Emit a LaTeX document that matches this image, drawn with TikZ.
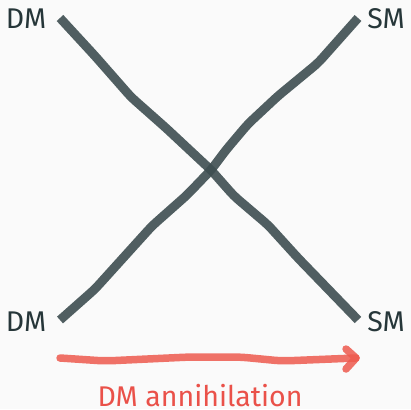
\documentclass[tikz,border=0pt]{standalone}
\usepackage{fontspec}
\setmainfont{Fira Sans}
\definecolor{bg}{HTML}{FAFAFA}
\definecolor{linec}{HTML}{3E4E51}
\definecolor{txt}{HTML}{263639}
\definecolor{redc}{HTML}{EE5A4E}
\definecolor{redt}{HTML}{EA5149}
\begin{document}
\begin{tikzpicture}[x=1pt,y=-1pt,
  lbl/.style={font=\fontsize{28.5}{31}\selectfont,text=txt,anchor=base,inner sep=0pt},
  prop/.style={draw=linec,line width=9pt,draw opacity=0.9,line join=round,rounded corners=6pt},
  ann/.style={draw=redc,line width=7.5pt,draw opacity=0.85,line cap=round,line join=round,rounded corners=8pt}]
\fill[bg] (0,0) rectangle (411,409);
\useasboundingbox (0,0) rectangle (411,409);
\node[lbl] (dm1) at (26,29) {DM};
\node[lbl] (sm1) at (386,29) {SM};
\node[lbl] (dm2) at (26,331) {DM};
\node[lbl] (sm2) at (386,331) {SM};
\node[lbl,text=redt] (ann) at (200,406) {DM annihilation};
\coordinate (a1) at (60,18);
\coordinate (a2) at (358,320);
\coordinate (b1) at (60,320);
\coordinate (b2) at (358,18);
\coordinate (r1) at (60,358);
\coordinate (r2) at (356,358);
\draw[prop] (a1) -- (95,56) -- (131,97) -- (166,128) -- (211,170) -- (234,196) -- (268,225) -- (298,258) -- (a2);
\draw[prop] (b1) -- (95,289) -- (152,226) -- (187,195) -- (211,170) -- (226,150) -- (248,124) -- (278,96) -- (318,63) -- (b2);
\draw[ann] (r1) -- (105,361) -- (190,357) -- (240,357) -- (282,361) -- (r2);
\draw[ann,rounded corners=0pt] (346,349) -- (r2) -- (346,369);
\end{tikzpicture}
\end{document}
